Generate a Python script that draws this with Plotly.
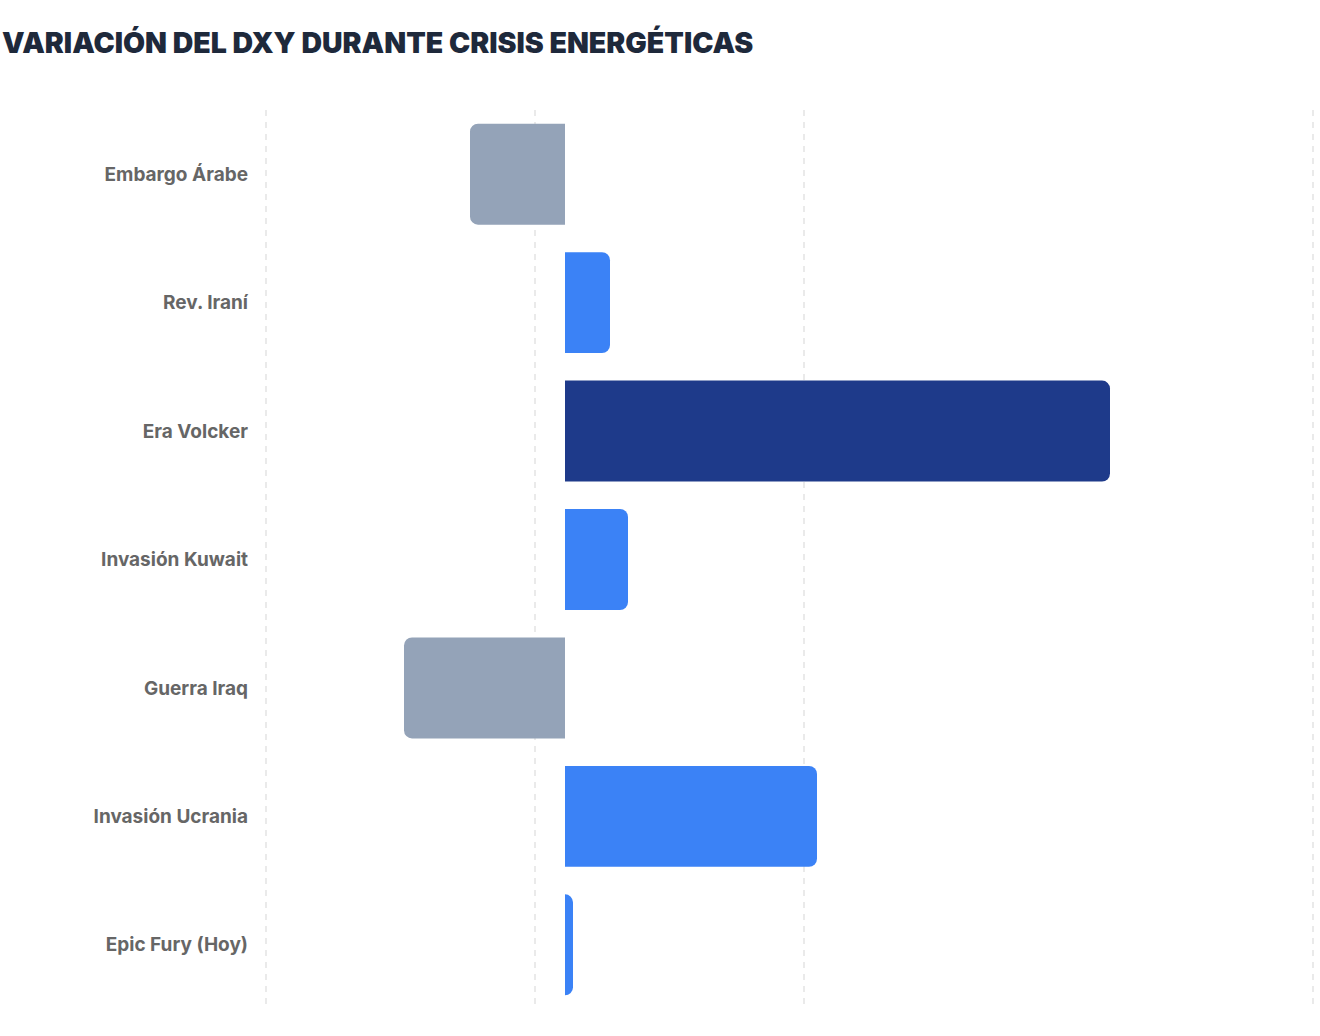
import plotly.graph_objects as go

categories = ["Embargo Árabe", "Rev. Iraní", "Era Volcker", "Invasión Kuwait",
              "Guerra Iraq", "Invasión Ucrania", "Epic Fury (Hoy)"]
values = [-9.5, 4.5, 54.5, 6.3, -16.1, 25.2, 0.8]
colors = ["#94A3B8", "#3B82F6", "#1E3A8A", "#3B82F6", "#94A3B8", "#3B82F6", "#3B82F6"]
grid_ticks = [-29.9, -3.0, 23.9, 74.8]
x_range = [-30.5, 75.4]

W, H = 1320, 1036
ML, MR, MT, MB = 260, 1, 110, 27
plot_w = W - ML - MR
plot_h = H - MT - MB

fig = go.Figure(go.Bar(
    y=categories,
    x=values,
    orientation="h",
    marker=dict(color=colors, cornerradius=8, line=dict(width=0)),
    width=0.786,
    hoverinfo="x+y",
))

fig.add_annotation(
    text="VARIACIÓN DEL DXY DURANTE CRISIS ENERGÉTICAS",
    font=dict(family="Inter", size=28.5, color="#1E293B", weight=900),
    xref="paper", yref="paper",
    x=(0 - ML) / plot_w, xanchor="left",
    y=1 + (MT - 42) / plot_h, yanchor="middle",
    showarrow=False,
)

fig.update_layout(
    width=W, height=H,
    paper_bgcolor="white", plot_bgcolor="white",
    margin=dict(l=ML, r=MR, t=MT, b=MB),
    showlegend=False,
    xaxis=dict(
        range=x_range, tickvals=grid_ticks, showticklabels=False,
        showgrid=True, gridcolor="#EAEAEA", gridwidth=1.8, griddash="6px,6px",
        zeroline=False, showline=False, ticks="",
    ),
    yaxis=dict(
        categoryorder="array", categoryarray=categories[::-1],
        showgrid=False, zeroline=False, showline=False, ticks="",
        tickfont=dict(family="Inter", size=19, color="#666666", weight=700),
        ticklabelstandoff=11,
    ),
)

fig.write_html("out.html", config={"displayModeBar": False},
               post_script="document.body.style.margin='0';")
